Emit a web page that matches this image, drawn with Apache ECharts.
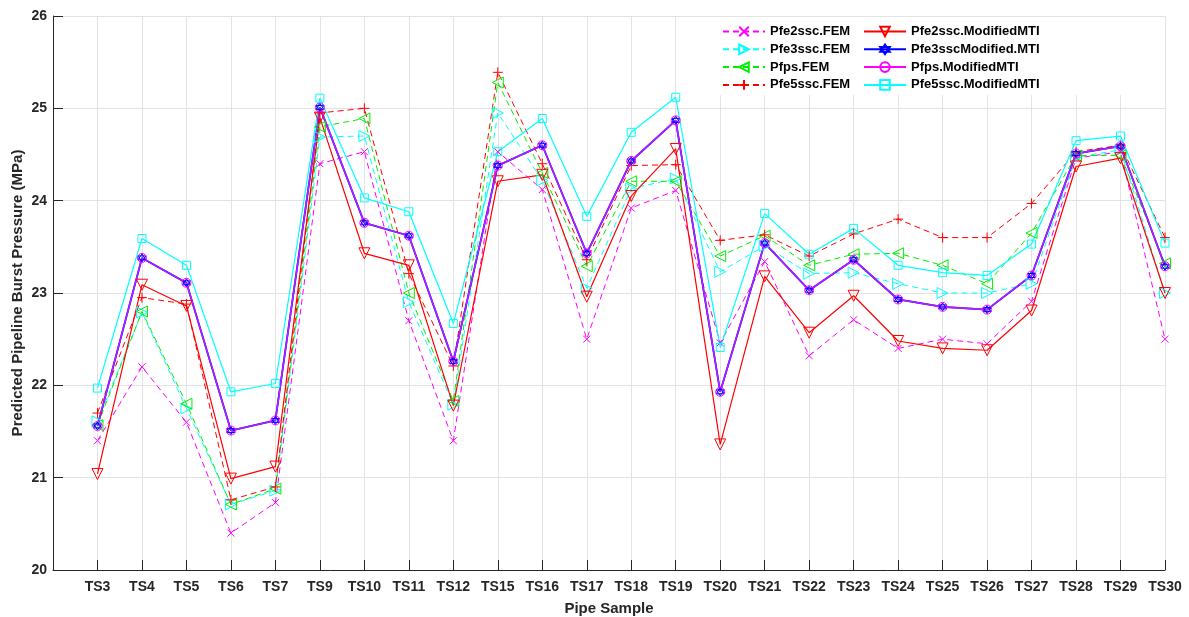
<!DOCTYPE html>
<html>
<head>
<meta charset="utf-8">
<script src="https://cdn.jsdelivr.net/npm/echarts@6/dist/echarts.min.js"></script>
<style>
html, body { margin: 0; padding: 0; background: #fff; }
#chart { width: 1189px; height: 617px; }
</style>
</head>
<body>
<div id="chart"></div>
<script>
var categories = ['TS3', 'TS4', 'TS5', 'TS6', 'TS7', 'TS9', 'TS10', 'TS11', 'TS12', 'TS15', 'TS16', 'TS17', 'TS18',
	'TS19', 'TS20', 'TS21', 'TS22', 'TS23', 'TS24', 'TS25', 'TS26', 'TS27', 'TS28', 'TS29', 'TS30'];

var pfe2sscFEM = [21.40, 22.20, 21.60, 20.40, 20.73, 24.40, 24.53, 22.70, 21.40, 24.53, 24.12, 22.50, 23.92,
	24.11, 22.46, 23.34, 22.32, 22.71, 22.40, 22.50, 22.45, 22.91, 24.46, 24.53, 22.50];
var pfe3sscFEM = [21.61, 22.79, 21.75, 20.71, 20.86, 24.69, 24.70, 22.90, 21.79, 24.95, 24.22, 23.05, 24.13,
	24.24, 23.23, 23.51, 23.21, 23.22, 23.10, 23.00, 23.00, 23.10, 24.47, 24.55, 23.00];
var pfpsFEM = [21.57, 22.80, 21.80, 20.71, 20.88, 24.80, 24.89, 23.00, 21.83, 25.28, 24.30, 23.29, 24.21,
	24.21, 23.40, 23.62, 23.30, 23.42, 23.43, 23.30, 23.10, 23.65, 24.49, 24.49, 23.32];
var pfe5sscFEM = [21.70, 22.95, 22.88, 20.76, 20.90, 24.95, 25.00, 23.21, 22.21, 25.39, 24.40, 23.36, 24.38,
	24.39, 23.57, 23.63, 23.40, 23.64, 23.80, 23.60, 23.60, 23.97, 24.53, 24.60, 23.60];
var pfe2sscMMTI = [21.04, 23.09, 22.86, 20.99, 21.12, 24.90, 23.43, 23.30, 21.78, 24.21, 24.28, 22.96, 24.05,
	24.56, 21.36, 23.18, 22.57, 22.97, 22.48, 22.40, 22.38, 22.81, 24.37, 24.46, 23.00];
var pfe3sscMMTI = [21.56, 23.38, 23.11, 21.51, 21.62, 25.01, 23.76, 23.62, 22.26, 24.38, 24.60, 23.43, 24.43,
	24.87, 21.93, 23.54, 23.03, 23.36, 22.93, 22.85, 22.82, 23.19, 24.51, 24.59, 23.29];
var pfpsMMTI = [21.56, 23.38, 23.11, 21.51, 21.62, 25.01, 23.76, 23.62, 22.26, 24.38, 24.60, 23.43, 24.43,
	24.87, 21.93, 23.54, 23.03, 23.36, 22.93, 22.85, 22.82, 23.19, 24.51, 24.59, 23.29];
var pfe5sscMMTI = [21.97, 23.59, 23.30, 21.93, 22.02, 25.11, 24.03, 23.88, 22.67, 24.53, 24.89, 23.83, 24.74,
	25.12, 22.41, 23.86, 23.42, 23.70, 23.30, 23.22, 23.19, 23.53, 24.65, 24.70, 23.54];

var yTicks = [20, 21, 22, 23, 24, 25, 26];

// marker shapes (open, matlab style)
var mkX = 'path://M0,0L10,10M10,0L0,10';
var mkPlus = 'path://M5,0L5,10M0,5L10,5';
var mkRight = 'path://M0,0L10,5L0,10Z';
var mkLeft = 'path://M10,0L0,5L10,10Z';
var mkDown = 'path://M0,0L10,0L5,10Z';
var mkHex = 'path://M5,0L9.33,7.5L0.67,7.5ZM5,10L0.67,2.5L9.33,2.5Z';

function pts(arr) {
	return arr.map(function (v, i) { return [i + 1, v]; });
}

function makeSeries(name, arr, color, lineColor, dashed, width, symbol, size) {
	return {
		name: name,
		type: 'line',
		data: pts(arr),
		symbol: symbol,
		symbolSize: size,
		showAllSymbol: true,
		lineStyle: { color: lineColor, width: width, type: dashed ? [6, 4] : 'solid' },
		itemStyle: { color: 'rgba(0,0,0,0)', borderColor: color, borderWidth: 1 },
		emphasis: { disabled: true },
		animation: false
	};
}

var series = [
	makeSeries('Pfe2ssc.FEM', pfe2sscFEM, '#ff00ff', '#ff00ff', true, 1, mkX, 7),
	makeSeries('Pfe3ssc.FEM', pfe3sscFEM, '#00ffff', '#00ffff', true, 1, mkRight, 11),
	makeSeries('Pfps.FEM', pfpsFEM, '#00ee00', '#00ee00', true, 1, mkLeft, 11),
	makeSeries('Pfe5ssc.FEM', pfe5sscFEM, '#ff0000', '#ff0000', true, 1, mkPlus, 10),
	makeSeries('Pfe2ssc.ModifiedMTI', pfe2sscMMTI, '#ff0000', '#ff0000', false, 1.2, mkDown, 11),
	makeSeries('Pfe3sscModified.MTI', pfe3sscMMTI, '#0000ff', '#0000ff', false, 1.8, mkHex, 8),
	makeSeries('Pfps.ModifiedMTI', pfpsMMTI, '#ff00ff', '#b41eff', false, 1.6, 'circle', 9),
	makeSeries('Pfe5ssc.ModifiedMTI', pfe5sscMMTI, '#00ffff', '#00ffff', false, 1.2, 'rect', 8)
];

var fontFam = 'Liberation Sans, Arial, sans-serif';
var legendText = { fontSize: 13, fontWeight: 'bold', color: '#000', fontFamily: fontFam };

var chart = echarts.init(document.getElementById('chart'));
var option = {
	backgroundColor: '#fff',
	animation: false,
	grid: { left: 53, right: 24, top: 16, bottom: 47, outerBoundsMode: 'none', containLabel: false },
	graphic: [{
		type: 'rect',
		z: 1,
		shape: { x: 718, y: 17, width: 446, height: 78 },
		style: { fill: '#fff' }
	}],
	legend: [{
		data: ['Pfe2ssc.FEM', 'Pfe3ssc.FEM', 'Pfps.FEM', 'Pfe5ssc.FEM'],
		orient: 'vertical',
		left: 722,
		top: 25,
		padding: 0,
		itemWidth: 42,
		itemHeight: 12,
		itemGap: 4.8,
		textStyle: legendText,
		selectedMode: false
	}, {
		data: ['Pfe2ssc.ModifiedMTI', 'Pfe3sscModified.MTI',
			{ name: 'Pfps.ModifiedMTI', lineStyle: { color: '#ff00ff' } }, 'Pfe5ssc.ModifiedMTI'],
		orient: 'vertical',
		left: 863,
		top: 25,
		padding: 0,
		itemWidth: 42,
		itemHeight: 12,
		itemGap: 4.8,
		textStyle: legendText,
		selectedMode: false
	}],
	xAxis: {
		type: 'value',
		min: 0,
		max: 25,
		interval: 1,
		name: 'Pipe Sample',
		nameLocation: 'middle',
		nameGap: 31,
		nameMoveOverlap: false,
		nameTextStyle: { fontSize: 15, fontWeight: 'bold', color: '#262626', fontFamily: fontFam },
		axisLine: { lineStyle: { color: '#262626', width: 1 } },
		axisTick: { inside: true, length: 10, lineStyle: { color: '#262626' } },
		axisLabel: {
			fontSize: 14, fontWeight: 'bold', color: '#262626', margin: 10,
			fontFamily: fontFam,
			formatter: function (v) { return categories[v - 1] || ''; }
		},
		splitLine: { show: true, lineStyle: { color: '#e3e3e3', width: 1 } }
	},
	yAxis: {
		type: 'value',
		min: yTicks[0],
		max: yTicks[yTicks.length - 1],
		interval: 1,
		name: 'Predicted Pipeline Burst Pressure (MPa)',
		nameLocation: 'middle',
		nameGap: 28,
		nameMoveOverlap: false,
		nameTextStyle: { fontSize: 15, fontWeight: 'bold', color: '#262626', fontFamily: fontFam },
		axisLine: { show: true, lineStyle: { color: '#262626', width: 1 } },
		axisTick: { show: true, inside: true, length: 10, lineStyle: { color: '#262626' } },
		axisLabel: {
			fontSize: 14, fontWeight: 'bold', color: '#262626', margin: 6,
			fontFamily: fontFam
		},
		splitLine: { show: true, lineStyle: { color: '#e3e3e3', width: 1 } }
	},
	series: series
};
chart.setOption(option);
</script>
</body>
</html>
